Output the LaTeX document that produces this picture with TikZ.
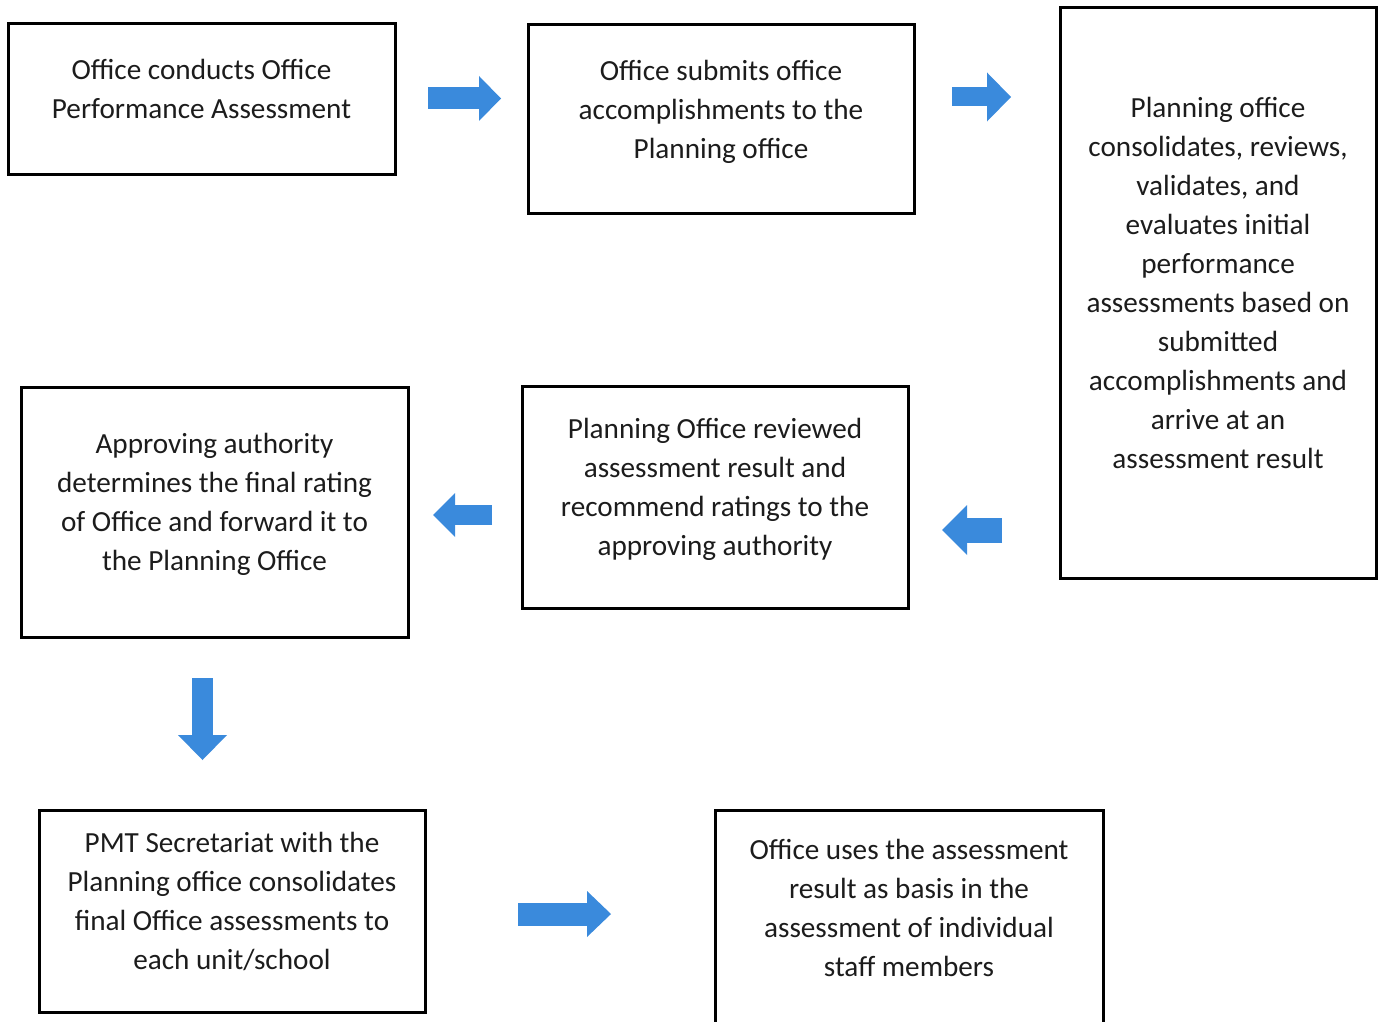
\documentclass[tikz,border=0pt]{standalone}
\usepackage{fontspec}
\setmainfont{Carlito}
\usetikzlibrary{arrows.meta}

\definecolor{flowblue}{RGB}{58,138,220}
\definecolor{inktext}{RGB}{28,28,28}

% block arrow: shaft width, head length, head width
\tikzset{flow/.style n args={3}{draw=flowblue, line width=#1, -{Triangle[length=#2, width=#3, line width=0pt, fill=flowblue]}}}

\begin{document}
\begin{tikzpicture}[x=0.5pt, y=-0.5pt]
% one unit is one pixel of the page, y runs downwards

\tikzstyle{stepbox} = [draw, line width=1.5pt, rectangle, align=center, text=inktext, inner sep=0pt, font=\fontsize{14.6pt}{19.5pt}\selectfont, text depth=10.5pt] % define process box

\useasboundingbox (0,0) rectangle (1379,1021);

% top row
\node(conduct)[stepbox, minimum width=193.5pt, minimum height=75.5pt] at (201.5,99.5){Office conducts Office\\Performance Assessment};
\node(submit)[stepbox, minimum width=193pt, minimum height=94.5pt] at (721,119.5){Office submits office\\accomplishments to the\\Planning office};
\node(consol)[stepbox, minimum width=158pt, minimum height=285pt] at (1218,293){Planning office\\consolidates, reviews,\\validates, and\\evaluates initial\\performance\\assessments based on\\submitted\\accomplishments and\\arrive at an\\assessment result};

% middle row
\node(review)[stepbox, minimum width=193pt, minimum height=111pt] at (715,497){Planning Office reviewed\\assessment result and\\recommend ratings to the\\approving authority};
\node(approve)[stepbox, minimum width=193.5pt, minimum height=125pt] at (214.5,512){Approving authority\\determines the final rating\\of Office and forward it to\\the Planning Office};

% bottom row
\node(pmt)[stepbox, minimum width=193pt, minimum height=101pt] at (232,911){PMT Secretariat with the\\Planning office consolidates\\final Office assessments to\\each unit/school};
\node(use)[stepbox, minimum width=194pt, minimum height=108pt] at (909,918){Office uses the assessment\\result as basis in the\\assessment of individual\\staff members};

% arrow ends
\coordinate(f1a) at (428,98.5);  \coordinate(f1b) at (501,98.5);
\coordinate(f2a) at (952,97);    \coordinate(f2b) at (1011,97);
\coordinate(f3a) at (1002,530);  \coordinate(f3b) at (942,530);
\coordinate(f4a) at (492,515);   \coordinate(f4b) at (433,515);
\coordinate(f5a) at (202.5,678); \coordinate(f5b) at (202.5,760);
\coordinate(f6a) at (518,914);   \coordinate(f6b) at (611,914);

% arrows
\draw[flow={11pt}{11pt}{22.5pt}](f1a)--(f1b);
\draw[flow={9.5pt}{12pt}{24.5pt}](f2a)--(f2b);
\draw[flow={12.5pt}{12.5pt}{25pt}](f3a)--(f3b);
\draw[flow={10pt}{11pt}{22pt}](f4a)--(f4b);
\draw[flow={10.5pt}{12.5pt}{24.5pt}](f5a)--(f5b);
\draw[flow={11.5pt}{12pt}{23pt}](f6a)--(f6b);
\end{tikzpicture}
\end{document}
